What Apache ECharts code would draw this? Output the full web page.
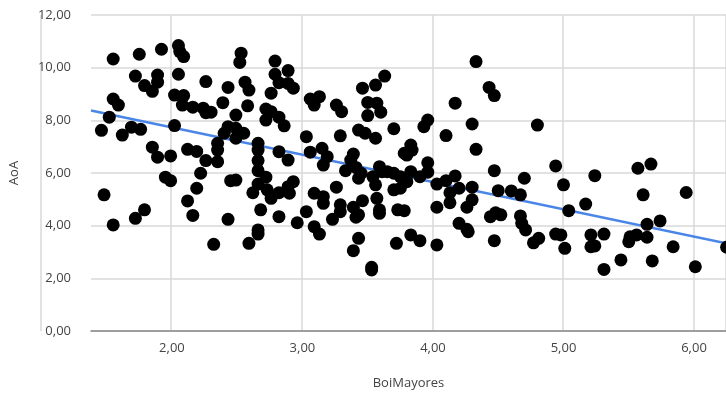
<!DOCTYPE html>
<html>
<head>
<meta charset="utf-8">
<script src="https://cdn.jsdelivr.net/npm/echarts@6/dist/echarts.min.js"></script>
<style>
  html, body { margin: 0; padding: 0; background: #fff; }
  #chart { width: 726px; height: 395px; }
</style>
</head>
<body>
<div id="chart"></div>
<script>
// BoiMayores (x) vs AoA (y)
const boiMayores = [
  1.55, 1.75, 1.92, 2.05, 2.06, 2.09, 2.53, 2.52, 1.72, 1.89, 1.89, 1.79, 1.85, 2.05, 2.26, 2.43,
  1.55, 1.59, 2.02, 2.09, 2.08, 2.16, 2.24, 2.26, 2.30, 2.39, 2.49, 1.52, 2.02, 1.46, 1.69, 1.76,
  2.43, 2.49, 1.62, 1.85, 1.89, 1.99, 2.12, 2.19, 2.26, 2.35, 2.35, 2.35, 2.40, 2.49, 2.55, 1.95,
  1.99, 2.22, 2.19, 2.12, 2.16, 2.45, 2.49, 1.48, 1.79, 1.72, 1.55, 2.43, 2.32, 2.56, 2.59, 2.79,
  2.79, 2.89, 2.82, 2.89, 2.93, 2.76, 2.58, 2.72, 2.76, 2.82, 2.72, 2.86, 3.06, 3.13, 3.09, 3.26,
  3.30, 3.46, 3.56, 3.63, 3.50, 3.57, 3.60, 3.50, 3.43, 3.70, 2.66, 2.66, 2.66, 2.66, 2.72, 2.66,
  2.62, 2.73, 2.76, 2.82, 2.89, 2.93, 2.90, 2.82, 2.89, 3.03, 3.06, 3.15, 3.19, 3.16, 3.29, 3.39,
  3.37, 3.33, 3.41, 3.45, 3.43, 3.48, 3.56, 3.78, 3.59, 3.61, 3.65, 3.54, 3.56, 3.70, 3.75, 3.70,
  3.75, 3.09, 3.16, 3.16, 3.26, 3.29, 3.29, 3.23, 3.39, 3.46, 3.41, 3.43, 3.57, 3.59, 3.59, 3.73,
  3.78, 2.68, 2.82, 3.03, 2.96, 3.09, 2.66, 2.66, 2.59, 3.13, 3.43, 3.39, 3.53, 3.53, 3.72, 4.33,
  4.43, 4.47, 4.17, 3.96, 3.93, 4.30, 4.80, 4.10, 3.83, 3.84, 3.80, 4.33, 3.96, 3.96, 3.83, 3.90,
  3.80, 4.17, 4.10, 4.03, 4.13, 4.20, 4.30, 4.47, 4.50, 4.60, 4.67, 4.70, 4.94, 5.00, 4.03, 4.13,
  4.30, 4.26, 4.20, 4.26, 4.44, 4.48, 4.52, 4.67, 4.68, 3.83, 3.90, 4.03, 4.27, 4.47, 4.71, 4.77,
  4.81, 4.94, 4.98, 5.01, 5.24, 5.57, 5.67, 5.61, 5.94, 5.17, 5.04, 5.64, 5.74, 5.21, 5.31, 5.21,
  5.24, 5.31, 5.44, 5.51, 5.50, 5.56, 5.64, 5.68, 5.84, 6.01, 6.25
];
const aoa = [
  10.33, 10.51, 10.70, 10.84, 10.61, 10.42, 10.55, 10.20, 9.68, 9.72, 9.45, 9.32, 9.10, 9.75, 9.47, 9.25,
  8.81, 8.58, 8.96, 8.94, 8.58, 8.50, 8.46, 8.29, 8.31, 8.67, 8.20, 8.12, 7.80, 7.62, 7.74, 7.66,
  7.76, 7.70, 7.44, 6.98, 6.60, 6.65, 6.90, 6.82, 6.47, 7.13, 6.87, 6.43, 7.51, 7.32, 7.51, 5.84,
  5.71, 5.99, 5.42, 4.94, 4.39, 5.71, 5.73, 5.17, 4.60, 4.28, 4.03, 4.24, 3.29, 9.45, 9.15, 10.25,
  9.75, 9.89, 9.43, 9.40, 9.22, 9.03, 8.55, 8.43, 8.33, 8.12, 8.01, 7.79, 8.81, 8.90, 8.58, 8.58,
  8.33, 9.22, 9.34, 9.68, 8.68, 8.65, 8.31, 8.18, 7.63, 7.68, 7.13, 6.87, 6.47, 6.09, 5.84, 5.58,
  5.25, 5.36, 5.04, 5.25, 5.48, 5.67, 5.23, 6.81, 6.49, 7.38, 6.79, 6.94, 6.62, 6.30, 7.41, 6.72,
  6.49, 6.09, 6.21, 5.99, 5.80, 7.51, 7.32, 6.75, 6.24, 6.05, 6.05, 5.86, 5.55, 5.99, 5.86, 5.36,
  5.42, 5.23, 5.10, 4.85, 5.46, 4.79, 4.53, 4.24, 4.70, 4.95, 4.32, 4.41, 5.04, 4.60, 4.47, 4.60,
  4.57, 4.60, 4.34, 4.53, 4.11, 3.96, 3.84, 3.68, 3.33, 3.68, 3.52, 3.05, 2.42, 2.32, 3.33, 10.23,
  9.25, 8.94, 8.65, 8.01, 7.76, 7.86, 7.82, 7.42, 7.06, 6.87, 6.68, 6.90, 6.39, 6.03, 6.05, 5.86,
  5.67, 5.89, 5.71, 5.58, 5.25, 5.42, 5.46, 6.09, 5.33, 5.32, 5.17, 5.80, 6.27, 5.55, 4.70, 4.87,
  4.98, 4.70, 4.09, 3.86, 4.34, 4.49, 4.41, 4.37, 4.09, 3.65, 3.43, 3.27, 3.77, 3.43, 3.84, 3.35,
  3.52, 3.68, 3.65, 3.14, 5.90, 6.18, 6.34, 5.17, 5.26, 4.82, 4.57, 4.05, 4.18, 3.65, 3.68, 3.20,
  3.23, 2.34, 2.70, 3.58, 3.39, 3.65, 3.56, 2.66, 3.20, 2.44, 3.18
];

// trend line end points as drawn in the picture
const trendX = [1.38, 6.245];
const trendY = [8.37, 3.33];

const xTicks = [2, 3, 4, 5, 6];
const yMin = 0;
const yMax = 12;

const points = boiMayores.map((v, i) => [v, aoa[i]]);
const trend = trendX.map((v, i) => [v, trendY[i]]);

const fmt = v => v.toFixed(2).replace('.', ',');
const textCol = '#444';
const fontFam = '"Open Sans", "Noto Sans", sans-serif';
const gridCol = '#d9d9d9';

// x axis starts off-tick (1.38), so the vertical grid comes from a second,
// hidden x axis that shares the pixel range but starts on a whole number
const gridAxisMin = 1;
const pxPerUnit = (726 - 90) / (6.245 - 1.38);
const gridLeft = 90 - (1.38 - gridAxisMin) * pxPerUnit;

const chart = echarts.init(document.getElementById('chart'), null, { renderer: 'canvas' });

const option = {
  animation: false,
  grid: [
    { left: 90, right: 0, top: 15, bottom: 64, containLabel: false },
    { left: gridLeft, right: 0, top: 15, bottom: 64, containLabel: false, show: false }
  ],
  xAxis: [
    {
      type: 'value',
      gridIndex: 0,
      min: 1.38,
      max: 6.245,
      name: 'BoiMayores',
      nameLocation: 'middle',
      nameGap: 46,
      nameTextStyle: { color: textCol, fontSize: 13, fontFamily: fontFam },
      axisLine: { show: true, onZero: false, lineStyle: { color: '#888', width: 1.5 } },
      axisTick: { show: false, customValues: xTicks },
      axisLabel: { customValues: xTicks, formatter: fmt, color: textCol, fontSize: 13, fontFamily: fontFam, margin: 11 },
      splitLine: { show: false }
    },
    {
      type: 'value',
      gridIndex: 1,
      min: gridAxisMin,
      max: 6.245,
      interval: 1,
      axisLine: { show: false },
      axisTick: { show: false },
      axisLabel: { show: false },
      splitLine: { show: true, lineStyle: { color: gridCol, width: 1.5 } }
    }
  ],
  yAxis: [
    {
      type: 'value',
      gridIndex: 0,
      min: yMin,
      max: yMax,
      interval: 2,
      name: 'AoA',
      nameLocation: 'middle',
      nameGap: 70,
      nameRotate: 90,
      nameTextStyle: { color: textCol, fontSize: 13, fontFamily: fontFam },
      axisLine: { show: false },
      axisTick: { show: false },
      axisLabel: { formatter: fmt, color: textCol, fontSize: 13, fontFamily: fontFam, margin: 20 },
      splitLine: { show: true, lineStyle: { color: gridCol, width: 1.5 } }
    },
    {
      type: 'value',
      gridIndex: 1,
      min: yMin,
      max: yMax,
      show: false,
      splitLine: { show: false }
    }
  ],
  series: [
    {
      type: 'line',
      data: trend,
      symbol: 'none',
      silent: true,
      lineStyle: { color: '#4a86e8', width: 2.5 },
      z: 2
    },
    {
      type: 'scatter',
      data: points,
      symbol: 'circle',
      symbolSize: 13,
      itemStyle: { color: '#000', opacity: 1 },
      clip: false,
      z: 3
    }
  ]
};

chart.setOption(option);
</script>
</body>
</html>
